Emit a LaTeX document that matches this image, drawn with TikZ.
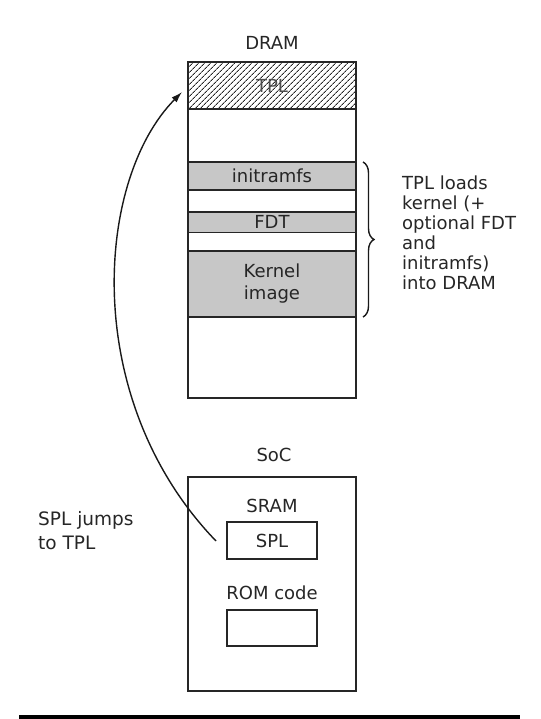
\documentclass[tikz,border=0pt]{standalone}
\usepackage{fontspec}
\setmainfont{DejaVu Sans}
\usetikzlibrary{patterns.meta,arrows.meta,decorations.pathreplacing}
\begin{document}
\begin{tikzpicture}[x=1pt,y=-1pt,
  txt/.style={font=\fontsize{18}{20}\selectfont, inner sep=0pt, text=black!85},
  blk/.style={draw=black!85, line width=1.6pt, inner sep=0pt, outer sep=0pt, rectangle},
  filled/.style={blk, fill=black!22},
  hatch/.style={blk, pattern={Lines[angle=45,distance=4pt,line width=1pt]}, pattern color=black!85},
  jump/.style={line width=1.4pt, draw=black!90, -{Latex[length=11pt,width=7pt]}},
  bracestyle/.style={line width=1.4pt, draw=black!90, decorate, decoration={brace, amplitude=11pt}}
]
\useasboundingbox (0,0) rectangle (540,719);

% DRAM
\node[blk, minimum width=168pt, minimum height=336pt] (dram) at (272,230) {};
\node[hatch, minimum width=168pt, minimum height=47pt] (tpl) at (272,85.5) {};
\node[txt, text=black!70] (tpllab) at (272,85.5) {TPL};
\node[filled, minimum width=168pt, minimum height=28pt] (initramfs) at (272,176) {};
\node[txt] at (initramfs.center) {initramfs};
\node[filled, minimum width=168pt, minimum height=20.5pt] (fdt) at (272,222.3) {};
\node[txt] at (fdt.center) {FDT};
\node[filled, minimum width=168pt, minimum height=66pt] (kernel) at (272,284) {};
\node[txt, align=center, font=\fontsize{18}{22}\selectfont] (kernlab) at (kernel.center) {Kernel\\image};
\node[txt] (dramlab) at (272,43) {DRAM};

% brace
\coordinate (bt) at (363,162);
\coordinate (bb) at (363,317);
\draw[bracestyle] (bt) -- (bb);
\node[txt, anchor=north west, align=left] (loads) at (402,176) {TPL loads\\kernel (+\\optional FDT\\and\\initramfs)\\into DRAM};

% SoC
\node[blk, minimum width=168pt, minimum height=214pt] (soc) at (272,584) {};
\node[txt] (soclab) at (274,455) {SoC};
\node[txt] (sramlab) at (272,506) {SRAM};
\node[blk, minimum width=90pt, minimum height=37pt] (spl) at (272,540.5) {};
\node[txt] at (spl.center) {SPL};
\node[txt] (romlab) at (272,593) {ROM code};
\node[blk, minimum width=90pt, minimum height=36pt] (rom) at (272,628) {};

\node[txt, anchor=north west, align=left, font=\fontsize{18.5}{24}\selectfont] (jumps) at (38,511) {SPL jumps\\to TPL};

% jump arrow
\coordinate (js) at (216,541);
\coordinate (je) at (182,92);
\draw[jump] (js) .. controls (80,400) and (95,180) .. (je);

% bottom rule
\coordinate (r1) at (19,717);
\coordinate (r2) at (520,717);
\draw[line width=3.5pt] (r1) -- (r2);
\end{tikzpicture}
\end{document}
